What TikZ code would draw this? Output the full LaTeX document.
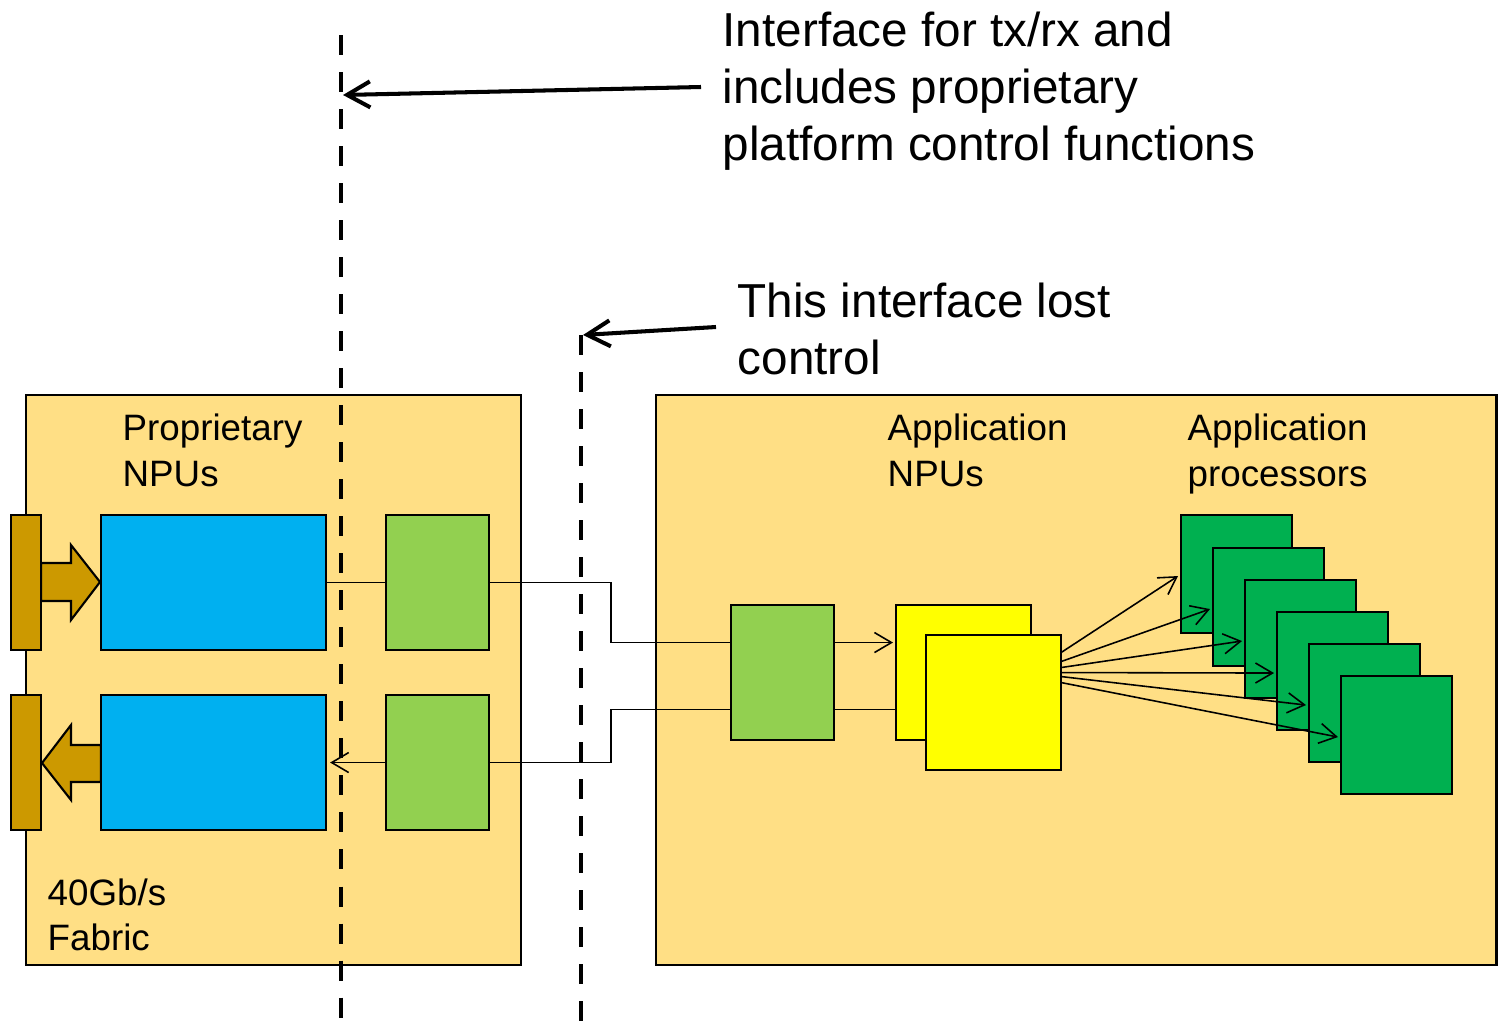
\documentclass[tikz,border=0pt]{standalone}
\usepackage{fontspec}
\setmainfont{Liberation Sans}
\usetikzlibrary{arrows.meta,calc}
\definecolor{bgy}{HTML}{FFDF85}
\definecolor{brn}{HTML}{CC9900}
\definecolor{npu}{HTML}{00B0F0}
\definecolor{lgr}{HTML}{92D050}
\definecolor{dgr}{HTML}{00B050}
\definecolor{ylw}{HTML}{FFFF00}
\tikzset{
  blk/.style={draw=black, line width=0.6pt, inner sep=0pt, outer sep=0pt, anchor=north west},
  bigbox/.style={blk, fill=bgy, minimum width=#1},
  conn/.style={draw=black, line width=0.45pt},
  thin arrow/.style={conn, -{Straight Barb[length=1.7mm, width=2mm]}},
  callout/.style={draw=black, line width=1.15pt, -{Straight Barb[length=2.3mm, width=2.6mm, line width=1.15pt]}},
  dashline/.style={draw=black, line width=1.15pt, dash pattern=on 0.2cm off 0.17cm},
  bigtxt/.style={font=\fontsize{13.55pt}{16.2pt}\selectfont, align=left, inner sep=0pt, anchor=base west},
  smalltxt/.style={font=\fontsize{10.45pt}{12.8pt}\selectfont, align=left, inner sep=0pt, anchor=base west},
  blockarrow/.style={draw=black, line width=0.6pt, fill=brn, line join=miter}
}
\begin{document}
\begin{tikzpicture}[x=0.01cm, y=-0.01cm]
\useasboundingbox (0,0) rectangle (1501,1027);
% big boxes
\node[bigbox=4.95cm, minimum height=5.70cm] (L) at (26,395) {};
\node[bigbox=8.40cm, minimum height=5.70cm] (R) at (656,395) {};
% block arrows
\path[blockarrow] (41,563) -- (71,563) -- (71,545) -- (100,582) -- (71,620) -- (71,601) -- (41,601) -- cycle;
\path[blockarrow] (101,745) -- (71,745) -- (71,725) -- (42,763) -- (71,800) -- (71,782) -- (101,782) -- cycle;
% brown bars
\node[blk, fill=brn, minimum width=0.30cm, minimum height=1.35cm] (b1) at (11,515) {};
\node[blk, fill=brn, minimum width=0.30cm, minimum height=1.35cm] (b2) at (11,695) {};
% blue NPUs
\node[blk, fill=npu, minimum width=2.25cm, minimum height=1.35cm] (n1) at (101,515) {};
\node[blk, fill=npu, minimum width=2.25cm, minimum height=1.35cm] (n2) at (101,695) {};
% light green boxes
\node[blk, fill=lgr, minimum width=1.03cm, minimum height=1.35cm] (g1) at (386,515) {};
\node[blk, fill=lgr, minimum width=1.03cm, minimum height=1.35cm] (g2) at (386,695) {};
\node[blk, fill=lgr, minimum width=1.03cm, minimum height=1.35cm] (g3) at (731,605) {};
% yellow
\node[blk, fill=ylw, minimum width=1.35cm, minimum height=1.35cm] (y1) at (896,605) {};
\node[blk, fill=ylw, minimum width=1.35cm, minimum height=1.35cm] (y2) at (926,635) {};
% dark green stack
\foreach \k/\yy in {1/515, 2/548, 3/580, 4/612, 5/644, 6/676}{
  \node[blk, fill=dgr, minimum width=1.11cm, minimum height=1.18cm] (p\k) at ({1181+32*(\k-1)},\yy) {};
}
% connectors
\draw[conn] (n1.east) -- (g1.west);
\draw[conn] (g1.east) -- ++(122,0) |- ($(g3.west)+(0,-30)$);
\draw[thin arrow] ($(g3.east)+(0,-30)$) -- ($(y1.west)+(-3,-30)$);
\draw[conn] ($(y1.west)+(0,37)$) -- ($(g3.east)+(0,37)$);
\draw[conn] ($(g3.west)+(0,37)$) -| ($(g2.east)+(122,0)$) -- (g2.east);
\draw[thin arrow] (g2.west) -- ($(n2.east)+(4,0)$);
% fan out
\foreach \k/\dy in {1/-50, 2/-41, 3/-35, 4/-30, 5/-26, 6/-20}{
  \draw[thin arrow] ($(y2.east)+(0,\dy)$) -- ($(p\k.west)+(-3,2)$);
}
% labels (base anchor = baseline of last line)
\node[smalltxt] (lp) at (122,486) {Proprietary\\NPUs};
\node[smalltxt] (lf) at (47,950) {40Gb/s\\Fabric};
\node[smalltxt] (la) at (887,486) {Application\\NPUs};
\node[smalltxt] (lb) at (1187,486) {Application\\processors};
\node[bigtxt] (t1) at (722,160) {Interface for tx/rx and\\includes proprietary\\platform control functions};
\node[bigtxt] (t2) at (737,374) {This interface lost\\control};
% dashed interfaces
\coordinate (d1t) at (341,35);
\coordinate (d1b) at (341,1027);
\coordinate (d2t) at (581,335);
\coordinate (d2b) at (581,1027);
\draw[dashline] (d1t) -- (d1b);
\draw[dashline] (d2t) -- (d2b);
% callout arrows
\coordinate (c1s) at (701,87);
\coordinate (c1e) at (343,95);
\coordinate (c2s) at (716,327);
\coordinate (c2e) at (583,335);
\draw[callout] (c1s) -- (c1e);
\draw[callout] (c2s) -- (c2e);
\end{tikzpicture}
\end{document}
